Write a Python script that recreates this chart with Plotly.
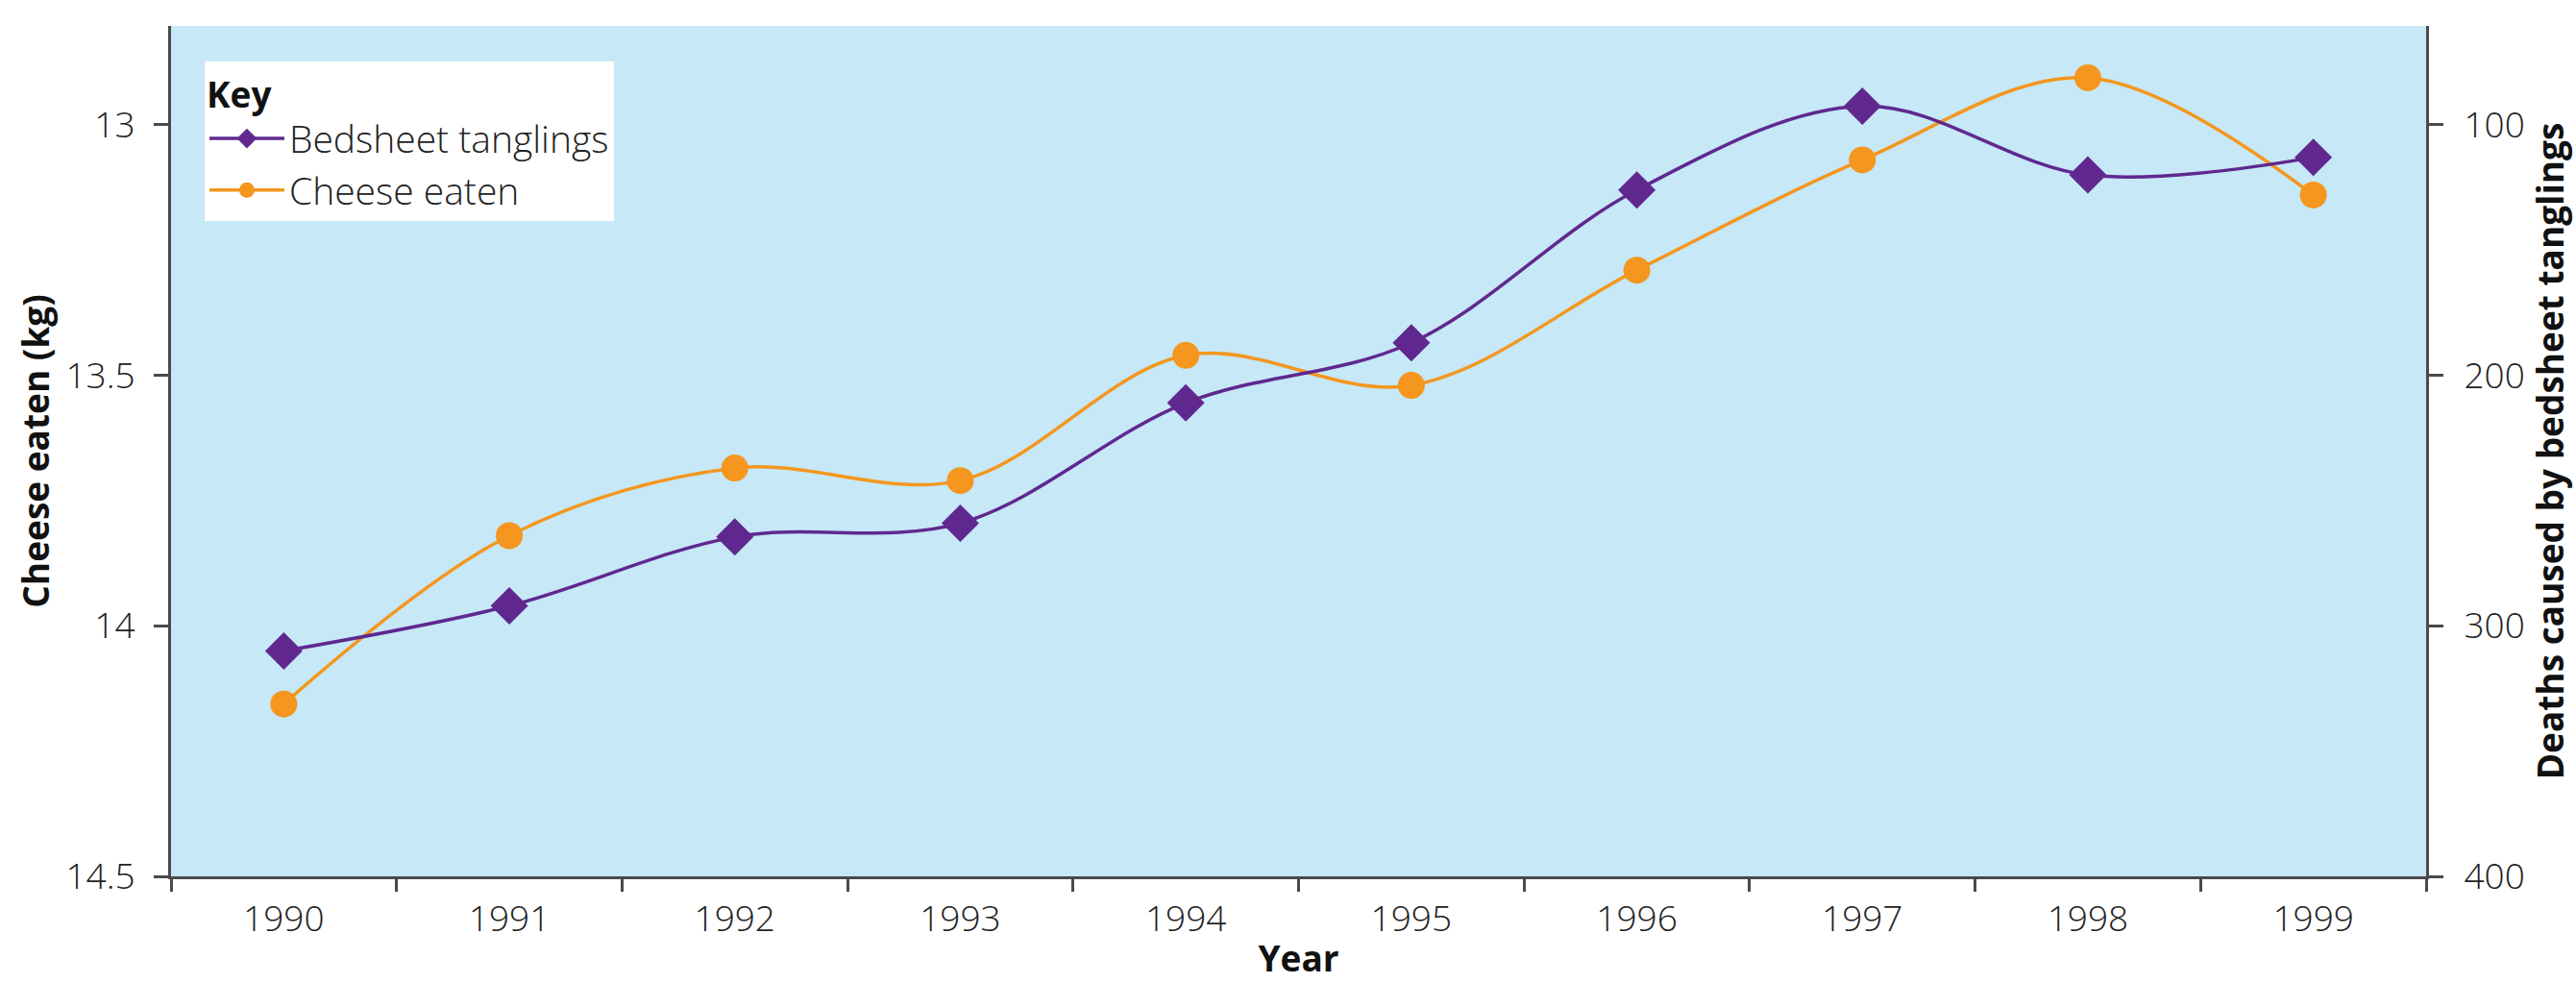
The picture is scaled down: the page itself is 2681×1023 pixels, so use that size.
import plotly.graph_objects as go

years = ["1990", "1991", "1992", "1993", "1994", "1995", "1996", "1997", "1998", "1999"]
cheese_kg = [14.156, 13.82, 13.685, 13.71, 13.46, 13.52, 13.29, 13.07, 12.906, 13.14]
bedsheet_deaths = [310, 292, 264.5, 259, 211, 187, 126, 92.5, 120, 113]

left_ticks = [13, 13.5, 14, 14.5]
right_ticks = [100, 200, 300, 400]

PURPLE = "#60288F"
ORANGE = "#F5961E"
AXIS = "#4a4a4a"
FONT = "Open Sans"

fig = go.Figure()
fig.add_trace(go.Scatter(
    x=years, y=bedsheet_deaths, name="Bedsheet tanglings", yaxis="y2",
    mode="lines+markers",
    line=dict(color=PURPLE, width=3.5, shape="spline", smoothing=1.0),
    marker=dict(symbol="diamond", size=30, color=PURPLE, line=dict(width=0)),
))
fig.add_trace(go.Scatter(
    x=years, y=cheese_kg, name="Cheese eaten", yaxis="y",
    mode="lines+markers",
    line=dict(color=ORANGE, width=3.5, shape="spline", smoothing=1.0),
    marker=dict(symbol="circle", size=28, color=ORANGE, line=dict(width=0)),
))

tickfont = dict(family=FONT, size=37, color="#222", weight=300)
titlefont = dict(family=FONT, size=37, color="#111", weight="bold")

fig.update_layout(
    width=2681, height=1023,
    margin=dict(l=178, r=156, t=27, b=111, pad=0),
    paper_bgcolor="white",
    plot_bgcolor="#C6E8F7",
    font=dict(family=FONT, size=37, color="#222"),
    showlegend=True,
    legend=dict(
        x=0.0149, y=0.958, xanchor="left", yanchor="top",
        bgcolor="white", borderwidth=0,
        font=dict(family=FONT, size=39, color="#222", weight=300),
        title=dict(text="Key", font=dict(family=FONT, size=37, color="#111", weight="bold")),
        itemwidth=78, tracegroupgap=0, itemsizing="trace",
    ),
    xaxis=dict(
        type="category", tickson="boundaries", ticks="outside", ticklen=13, tickwidth=3,
        tickcolor=AXIS, showline=True, linecolor=AXIS, linewidth=3, showgrid=False,
        zeroline=False, tickfont=tickfont, range=[-0.5, 9.5], ticklabelstandoff=10,
        title=dict(text="Year", font=titlefont, standoff=6),
    ),
    yaxis=dict(
        range=[14.5, 12.8025], tickvals=left_ticks, ticktext=[f"{v:g}" for v in left_ticks],
        ticks="outside", ticklen=15, tickwidth=3, tickcolor=AXIS,
        showline=True, linecolor=AXIS, linewidth=3, showgrid=False, zeroline=False,
        tickfont=tickfont, ticklabelstandoff=12,
        title=dict(text="Cheese eaten (kg)", font=titlefont, standoff=6),
    ),
    yaxis2=dict(
        overlaying="y", side="right",
        range=[400, 60.5], tickvals=right_ticks, ticktext=[str(v) for v in right_ticks],
        ticks="outside", ticklen=15, tickwidth=3, tickcolor=AXIS,
        showline=True, linecolor=AXIS, linewidth=3, showgrid=False, zeroline=False,
        tickfont=tickfont, ticklabelstandoff=14,
        title=dict(text="Deaths caused by bedsheet tanglings", font=titlefont, standoff=14),
    ),
)

fig.write_html("out.html")
